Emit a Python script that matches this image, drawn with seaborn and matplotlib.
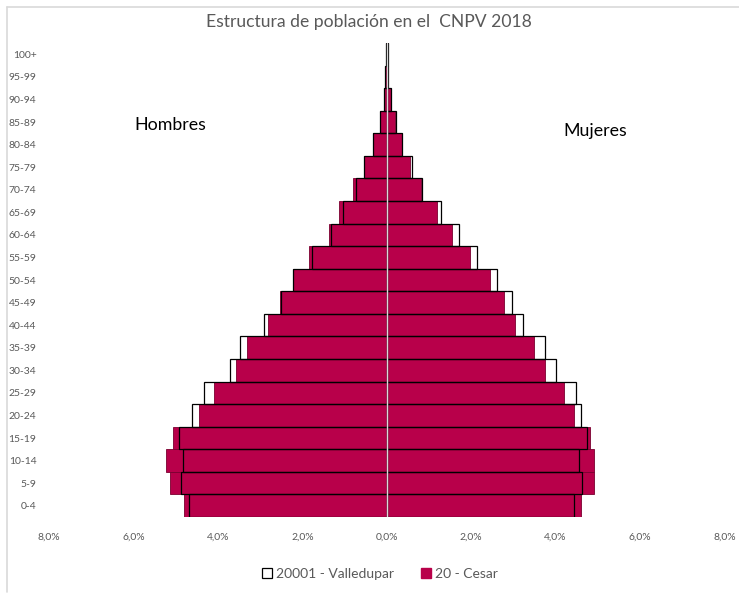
import numpy as np
import pandas as pd
import seaborn as sns
import matplotlib.pyplot as plt
from matplotlib.patches import Patch
from matplotlib.lines import Line2D

# Age groups, top of pyramid first
grupos = ["100+", "95-99", "90-94", "85-89", "80-84", "75-79", "70-74", "65-69",
          "60-64", "55-59", "50-54", "45-49", "40-44", "35-39", "30-34", "25-29",
          "20-24", "15-19", "10-14", "5-9", "0-4"]

# Percent of population
valle_hombres = [0.02, 0.03, 0.07, 0.17, 0.33, 0.53, 0.74, 1.04, 1.32, 1.78, 2.22,
                 2.51, 2.90, 3.48, 3.72, 4.32, 4.61, 4.92, 4.83, 4.87, 4.68]
valle_mujeres = [0.02, 0.04, 0.09, 0.21, 0.37, 0.59, 0.84, 1.29, 1.70, 2.14, 2.62,
                 2.96, 3.22, 3.74, 4.02, 4.48, 4.60, 4.74, 4.56, 4.62, 4.44]
cesar_hombres = [0.02, 0.03, 0.07, 0.17, 0.33, 0.53, 0.80, 1.14, 1.37, 1.85, 2.23,
                 2.53, 2.82, 3.31, 3.57, 4.08, 4.44, 5.07, 5.22, 5.14, 4.80]
cesar_mujeres = [0.02, 0.03, 0.09, 0.19, 0.36, 0.56, 0.80, 1.20, 1.55, 1.98, 2.45,
                 2.77, 3.03, 3.48, 3.75, 4.19, 4.44, 4.82, 4.92, 4.92, 4.59]

color_cesar = "#B8004A"
gris = "#595959"

df = pd.DataFrame({
    "grupo": grupos * 4,
    "valor": [-v for v in valle_hombres] + valle_mujeres
             + [-v for v in cesar_hombres] + cesar_mujeres,
    "serie": ["Valledupar"] * 42 + ["Cesar"] * 42,
    "sexo": (["H"] * 21 + ["M"] * 21) * 2,
})

sns.set_style("white")
plt.rcParams["font.family"] = ["Lato", "DejaVu Sans"]

fig = plt.figure(figsize=(7.39, 5.95), dpi=100)
W, H = 739, 595
ax = fig.add_axes([49 / W, 1 - 517 / H, (724.5 - 49) / W, (517 - 43) / H])

# Cesar filled bars first, Valledupar outline on top
for sexo in ["H", "M"]:
    sub = df[(df.serie == "Cesar") & (df.sexo == sexo)]
    sns.barplot(data=sub, x="valor", y="grupo", order=grupos, orient="h",
                color=color_cesar, width=1.0, errorbar=None, ax=ax,
                edgecolor="#7a0030", linewidth=0.6, saturation=1)
for sexo in ["H", "M"]:
    sub = df[(df.serie == "Valledupar") & (df.sexo == sexo)]
    sns.barplot(data=sub, x="valor", y="grupo", order=grupos, orient="h",
                color="black", width=1.0, errorbar=None, ax=ax,
                facecolor="none", edgecolor="black", linewidth=0.9)

ax.axvline(0, color="#d9d9d9", linewidth=1.0, zorder=5)

ax.set_xlim(-8, 8)
ticks = np.arange(-8, 9, 2)
ax.set_xticks(ticks)
ax.set_xticklabels([f"{abs(t):.1f}%".replace(".", ",") for t in ticks])
ax.tick_params(axis="x", colors=gris, labelsize=7.5, length=0, pad=11)
ax.tick_params(axis="y", colors=gris, labelsize=7.5, length=0, pad=9)
ax.set_xlabel("")
ax.set_ylabel("")
for s in ax.spines.values():
    s.set_visible(False)

fig.text(369 / W, 1 - 22 / H, "Estructura de población en el  CNPV 2018",
         ha="center", va="center", fontsize=12.6, color=gris)
fig.text(170 / W, 1 - 125 / H, "Hombres", ha="center", va="center",
         fontsize=12.8, color="black")
fig.text(595 / W, 1 - 131 / H, "Mujeres", ha="center", va="center",
         fontsize=12.8, color="black")

# chart border (top and left visible)
fig.add_artist(Line2D([7 / W, 1], [1 - 7 / H, 1 - 7 / H], color="#d9d9d9", lw=1.2))
fig.add_artist(Line2D([7 / W, 7 / W], [1 - 7 / H, 1 - 592 / H], color="#d9d9d9", lw=1.2))

handles = [Patch(facecolor="white", edgecolor="black", linewidth=0.9),
           Patch(facecolor=color_cesar, edgecolor=color_cesar)]
fig.legend(handles, ["20001 - Valledupar", "20 - Cesar"], loc="center",
           bbox_to_anchor=(380 / W, 1 - 574 / H), ncol=2, frameon=False,
           fontsize=10, labelcolor=gris, handlelength=0.7, handleheight=0.7,
           handletextpad=0.3, columnspacing=2.0)

fig.savefig("out.png", dpi=100)
